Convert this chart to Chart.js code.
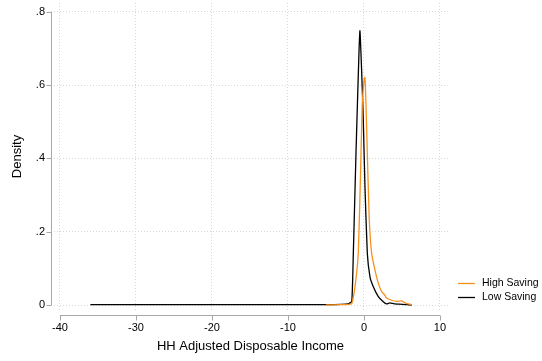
<!DOCTYPE html>
<html>
<head>
<meta charset="utf-8">
<script src="https://cdn.jsdelivr.net/npm/chart.js@4"></script>
<style>
  html, body { margin: 0; padding: 0; background: #fff; }
  #wrap { width: 542px; height: 361px; }
</style>
</head>
<body>
<div id="wrap"><canvas id="chart"></canvas></div>
<script>
// density estimates
const lowX  = [-36, -30, -20, -10, -5, -3, -2, -1.6, -1.4, -1.05, -0.66, -0.53, -0.31, -0.09, 0.13, 0.44, 0.79, 1.23, 1.89, 2.54, 2.98, 3.4, 4, 5, 6.27];
const lowY  = [0.001, 0.001, 0.001, 0.001, 0.001, 0.002, 0.004, 0.01, 0.141, 0.414, 0.687, 0.748, 0.641, 0.505, 0.323, 0.141, 0.077, 0.05, 0.023, 0.009, 0.003, 0.006, 0.003, 0.002, 0.0];
const highX = [-5, -3, -2, -1.6, -1.18, -0.75, -0.44, -0.22, 0.04, 0.13, 0.26, 0.44, 0.70, 1.01, 1.45, 1.89, 2.33, 2.63, 2.98, 3.64, 4.3, 4.96, 5.62, 6.27];
const highY = [0.0, 0.001, 0.002, 0.004, 0.05, 0.14, 0.368, 0.55, 0.618, 0.621, 0.55, 0.414, 0.232, 0.141, 0.095, 0.059, 0.036, 0.03, 0.019, 0.013, 0.01, 0.011, 0.004, 0.001];
const xTicks = [-40, -30, -20, -10, 0, 10];
const yTicks = [0, 0.2, 0.4, 0.6, 0.8];
const seriesNames = ['High Saving', 'Low Saving'];
const seriesColors = ['#f7911e', '#000000'];

const FONT = '"Liberation Sans", Arial, sans-serif';

function pts(xs, ys) {
    return xs.map((x, i) => ({ x: x, y: ys[i] }));
}

const gridStyle = {
    color: '#d8d8d8',
    lineWidth: 1,
    drawTicks: false,
};

// axis lines + tick marks (stata style, only spanning the tick range) and legend
const stataAxes = {
    id: 'stataAxes',
    afterDraw(chart) {
        const c = chart.ctx;
        const xs = chart.scales.x, ys = chart.scales.y;
        const area = chart.chartArea;
        c.save();
        c.strokeStyle = '#a8a8a8';
        c.lineWidth = 1;
        // y axis
        const ax = Math.round(area.left) + 0.5;
        c.beginPath();
        c.moveTo(ax, ys.getPixelForValue(0));
        c.lineTo(ax, ys.getPixelForValue(0.8));
        yTicks.forEach(v => {
            const p = Math.round(ys.getPixelForValue(v)) + 0.5;
            c.moveTo(ax - 5, p);
            c.lineTo(ax, p);
        });
        // x axis
        const ay = Math.round(area.bottom) + 5.5;
        c.moveTo(xs.getPixelForValue(-40), ay);
        c.lineTo(xs.getPixelForValue(10), ay);
        xTicks.forEach(v => {
            const p = Math.round(xs.getPixelForValue(v)) + 0.5;
            c.moveTo(p, ay);
            c.lineTo(p, ay + 5);
        });
        c.stroke();

        // legend
        c.font = '10.5px ' + FONT;
        c.textBaseline = 'middle';
        c.fillStyle = '#000';
        seriesNames.forEach((name, i) => {
            const y = 283.5 + i * 14;
            c.strokeStyle = seriesColors[i];
            c.lineWidth = 1.3;
            c.beginPath();
            c.moveTo(458, y);
            c.lineTo(475, y);
            c.stroke();
            c.fillText(name, 482, y);
        });
        c.restore();
    }
};

new Chart(document.getElementById('chart'), {
    type: 'scatter',
    data: {
        datasets: [
            {
                label: seriesNames[0],
                data: pts(highX, highY),
                showLine: true,
                borderColor: seriesColors[0],
                borderWidth: 1.3,
                pointRadius: 0,
                tension: 0.15,
            },
            {
                label: seriesNames[1],
                data: pts(lowX, lowY),
                showLine: true,
                borderColor: seriesColors[1],
                borderWidth: 1.3,
                pointRadius: 0,
                tension: 0.15,
            },
        ],
    },
    options: {
        responsive: true,
        maintainAspectRatio: false,
        animation: false,
        layout: { padding: { top: 3, right: 92, bottom: 0, left: 0 } },
        plugins: {
            legend: { display: false },
            tooltip: { enabled: false },
        },
        scales: {
            x: {
                type: 'linear',
                min: -41.18,
                max: 11.32,
                afterBuildTicks: (s) => { s.ticks = xTicks.map(v => ({ value: v })); },
                afterFit: (s) => { s.height = 51; s.paddingLeft = 0; s.paddingRight = 0; },
                border: { display: false, dash: [1, 2] },
                grid: gridStyle,
                ticks: {
                    padding: 11,
                    color: '#000',
                    font: { size: 11, family: FONT },
                    callback: (v) => String(v),
                },
                title: {
                    display: true,
                    text: 'HH Adjusted Disposable Income',
                    color: '#000',
                    font: { size: 13, family: FONT },
                    padding: { top: 0, bottom: 7 },
                },
            },
            y: {
                type: 'linear',
                min: -0.0136,
                max: 0.8237,
                afterBuildTicks: (s) => { s.ticks = yTicks.map(v => ({ value: v })); },
                afterFit: (s) => { s.width = 51; s.paddingTop = 0; s.paddingBottom = 0; },
                border: { display: false, dash: [1, 2] },
                grid: gridStyle,
                ticks: {
                    padding: 6,
                    color: '#000',
                    font: { size: 11, family: FONT },
                    callback: (v) => (v === 0 ? '0' : String(Math.round(v * 10) / 10).replace(/^0/, '')),
                },
                title: {
                    display: true,
                    text: 'Density',
                    color: '#000',
                    font: { size: 13, family: FONT },
                    padding: { top: 10, bottom: 0 },
                },
            },
        },
    },
    plugins: [stataAxes],
});
</script>
</body>
</html>
